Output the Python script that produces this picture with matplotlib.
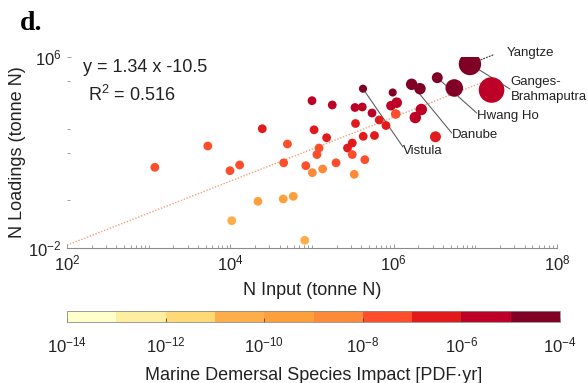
import numpy as np
import matplotlib
matplotlib.use('Agg')
import matplotlib.pyplot as plt
import matplotlib.ticker as mticker
from matplotlib.colors import ListedColormap, LogNorm
from matplotlib.cm import ScalarMappable

plt.rcParams['font.family'] = ['Liberation Sans', 'DejaVu Sans']
plt.rcParams['mathtext.fontset'] = 'custom'
plt.rcParams['mathtext.rm'] = 'Liberation Sans'
plt.rcParams['mathtext.it'] = 'Liberation Sans:italic'

# 하천 유역별 데이터
n_input = [1.19e3, 5.3e3, 2.46e4, 5.0e4, 9.9e3, 1.3e4, 4.5e4, 2.18e4, 4.44e4, 5.9e4,
           1.04e4, 8.15e4, 8.4e4, 1.01e5, 1.35e5, 1.15e5, 1.22e5, 1.06e5, 1.0e5, 1.51e5,
           1.77e5, 1.97e5, 2.72e5, 3.11e5, 3.11e5, 3.29e5, 4.43e5, 3.41e5, 3.36e5, 4.13e5,
           4.21e5, 4.24e5, 5.43e5, 5.82e5, 6.65e5, 8.05e5, 9.73e5, 9.27e5, 1.09e6, 1.06e6,
           1.66e6, 2.10e6, 2.18e6, 1.84e6, 3.25e6, 3.42e6, 5.52e6, 8.59e6, 1.58e7]
n_load = [24.0, 187, 990, 227, 17.3, 30, 37, 0.90, 1.13, 1.46,
          0.139, 0.021, 28, 14.3, 20.4, 82, 154, 893, 14800, 417,
          9770, 37, 154, 250, 82, 12.2, 50, 1640, 7670, 8050,
          47000, 477, 4510, 515, 2300, 1350, 32600, 9120, 12200, 4100,
          71900, 47000, 6320, 2920, 455, 136000, 50400, 5.1e5, 41500]
impact = [4e-8, 5e-8, 2e-7, 6e-8, 3e-8, 4e-8, 5e-8, 4e-10, 5e-10, 5e-10,
          6e-11, 8e-11, 2e-8, 5e-9, 6e-9, 3e-8, 4e-8, 2e-7, 2e-6, 2e-7,
          2e-6, 3e-8, 3e-7, 4e-7, 5e-8, 7e-9, 6e-8, 3e-7, 3e-6, 3e-6,
          2e-5, 4e-7, 2e-6, 5e-7, 4e-7, 5e-7, 2e-5, 4e-6, 4e-6, 8e-8,
          3e-5, 3e-5, 5e-6, 5e-6, 6e-7, 4e-5, 5e-5, 8e-5, 8e-6]
marker_area = [40] * 30 + [34, 40, 40, 40, 40, 40, 34, 48, 58, 48,
                           68, 68, 68, 68, 62, 62, 160, 260, 340]

# 회귀식: ln y = 1.34 ln x - 10.5
slope = 1.34
intercept = -10.5
r2 = 0.516

cbar_colors = ['#FFFFCC', '#FFEDA0', '#FED976', '#FDAE48', '#FDA03C',
               '#FC8A39', '#FC4E2A', '#E31A1C', '#BD0026', '#800026']
cmap = ListedColormap(cbar_colors)
norm = LogNorm(vmin=1e-14, vmax=1e-4)

fig = plt.figure(figsize=(5.88, 3.83), dpi=100)
ax = fig.add_axes([67 / 588, 1 - 248 / 383, 490 / 588, 191 / 383])

# 회귀선
x_fit = np.logspace(2, np.log10(max(n_input)), 200)
y_fit = np.exp(intercept) * x_fit ** slope
ax.plot(x_fit, y_fit, linestyle=(0, (1, 1.2)), color='#F4A07A', lw=1.0, zorder=1)

# 산점도 (큰 원이 위에 오도록 정렬)
order = np.argsort(marker_area, kind='stable')
xs = np.array(n_input)[order]
ys = np.array(n_load)[order]
cs = np.array(impact)[order]
ss = np.array(marker_area)[order]
ax.scatter(xs, ys, s=ss, c=cs, cmap=cmap, norm=norm, edgecolors='none', zorder=3)

# 하천 이름 라벨
leader = dict(arrowstyle='-', color='#606060', lw=0.8, shrinkA=0, shrinkB=0)
ax.annotate('', xy=(4.21e5, 47000), xytext=(1.30e6, 170), arrowprops=leader,
            zorder=2, annotation_clip=False)
ax.annotate('', xy=(1.66e6, 71900), xytext=(5.14e6, 656), arrowprops=leader,
            zorder=2, annotation_clip=False)
ax.annotate('', xy=(3.42e6, 136000), xytext=(1.04e7, 4510), arrowprops=leader,
            zorder=2, annotation_clip=False)
ax.annotate('', xy=(8.59e6, 5.1e5), xytext=(2.65e7, 45700), arrowprops=leader,
            zorder=2, annotation_clip=False)
ax.annotate('', xy=(8.59e6, 5.1e5), xytext=(1.64e7, 1.21e6),
            arrowprops=dict(arrowstyle='-', color='#333333', lw=0.8, ls=':',
                            shrinkA=0, shrinkB=0),
            zorder=2, annotation_clip=False)

lab_kw = dict(fontsize=9.5, color='#222222', va='center', ha='left', clip_on=False)
ax.text(1.29e6, 116, 'Vistula', **lab_kw)
ax.text(5.14e6, 541, 'Danube', **lab_kw)
ax.text(1.05e7, 3380, 'Hwang Ho', **lab_kw)
ax.text(2.71e7, 43500, 'Ganges-\nBrahmaputra', linespacing=1.3, **lab_kw)
ax.text(2.42e7, 1.54e6, 'Yangtze', **lab_kw)

ax.set_xscale('log')
ax.set_yscale('log')
ax.set_xlim(1e2, 1e8)
ax.set_ylim(1e-2, 1e6)

ax.set_xticks([1e2, 1e4, 1e6, 1e8])
ax.xaxis.set_major_formatter(mticker.LogFormatterMathtext())
ax.xaxis.set_minor_locator(mticker.LogLocator(base=10, subs=np.arange(1, 10), numticks=100))
ax.xaxis.set_minor_formatter(mticker.NullFormatter())
ax.set_yticks([1e-2, 1e6])
ax.yaxis.set_major_formatter(mticker.LogFormatterMathtext())
ax.yaxis.set_minor_locator(mticker.FixedLocator([1e0, 1e2, 1e3, 1e5]))
ax.yaxis.set_minor_formatter(mticker.NullFormatter())

for side in ['top', 'right', 'left']:
    ax.spines[side].set_visible(False)
ax.spines['bottom'].set_color('#8c8c8c')
ax.spines['bottom'].set_linewidth(0.8)
ax.tick_params(which='both', direction='in', color='#8c8c8c', width=0.6,
               labelsize=12, labelcolor='#222222')
ax.tick_params(which='major', length=3, pad=4)
ax.tick_params(which='minor', length=2)

ax.set_xlabel('N Input (tonne N)', fontsize=13, color='#222222', labelpad=6)
ax.set_ylabel('N Loadings (tonne N)', fontsize=13, color='#222222')
ax.yaxis.set_label_coords(-0.083, 0.5)

fig.text(83 / 588, 1 - 68 / 383, 'y = 1.34 x -10.5', fontsize=13, color='#222222',
         va='center', ha='left')
fig.text(88 / 588, 1 - 95 / 383, r'R$^{2}$ = ' + f'{r2:.3f}', fontsize=13,
         color='#222222', va='center', ha='left')
fig.text(20 / 588, 1 - 24 / 383, 'd.', fontsize=20, fontweight='bold',
         family='Liberation Serif', va='center', ha='left')

# 컬러바
cax = fig.add_axes([67 / 588, 1 - 322 / 383, 493 / 588, 11 / 383])
sm = ScalarMappable(norm=norm, cmap=cmap)
cb = fig.colorbar(sm, cax=cax, orientation='horizontal')
cb.set_ticks([1e-14, 1e-12, 1e-10, 1e-8, 1e-6, 1e-4])
cb.ax.xaxis.set_major_formatter(mticker.LogFormatterMathtext())
cb.ax.tick_params(which='both', direction='in', color='#444444', width=0.6,
                  labelsize=12, labelcolor='#222222', pad=10)
cb.ax.tick_params(which='major', length=3)
cb.ax.tick_params(which='minor', length=1.5)
cb.outline.set_edgecolor('#8c8c8c')
cb.outline.set_linewidth(0.6)
cb.set_label('Marine Demersal Species Impact [PDF·yr]', fontsize=13, color='#222222',
             labelpad=8)

plt.savefig('out.png', dpi=100)
